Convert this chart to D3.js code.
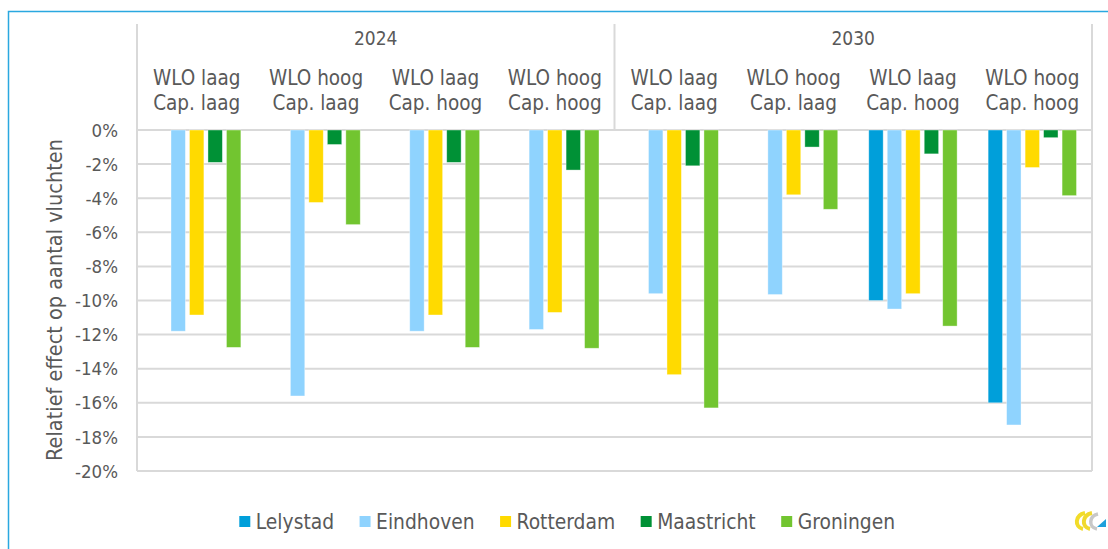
<!DOCTYPE html>
<html>
<head>
<meta charset="utf-8">
<script src="https://cdn.jsdelivr.net/npm/d3@7"></script>
<style>
  html, body { margin: 0; padding: 0; background: #fff; overflow: hidden; }
  text { font-family: "DejaVu Sans Condensed", "DejaVu Sans", sans-serif; font-stretch: condensed; fill: #595959; }
</style>
</head>
<body>
<div id="chart"></div>
<script>
// chart data
const years = ["2024", "2030"];
const scenarios = [
  ["WLO laag", "Cap. laag"],
  ["WLO hoog", "Cap. laag"],
  ["WLO laag", "Cap. hoog"],
  ["WLO hoog", "Cap. hoog"],
];
const airports = ["Lelystad", "Eindhoven", "Rotterdam", "Maastricht", "Groningen"];
const colors = ["#009fda", "#8fd3fe", "#ffda00", "#009136", "#72c530"];

// values in %, one row per category (2024 x 4, then 2030 x 4), null = no bar
const lelystad   = [null, null, null, null, 0, 0, -10.0, -16.0];
const eindhoven  = [-11.8, -15.6, -11.8, -11.7, -9.6, -9.65, -10.5, -17.3];
const rotterdam  = [-10.85, -4.25, -10.85, -10.7, -14.35, -3.8, -9.6, -2.2];
const maastricht = [-1.9, -0.85, -1.9, -2.35, -2.1, -1.0, -1.4, -0.45];
const groningen  = [-12.75, -5.55, -12.75, -12.8, -16.3, -4.65, -11.5, -3.85];

const yTicks = [0, -2, -4, -6, -8, -10, -12, -14, -16, -18, -20];

const series = [lelystad, eindhoven, rotterdam, maastricht, groningen];
const cats = [];
years.forEach((yr) => scenarios.forEach((s) => cats.push({ year: yr, lines: s })));
cats.forEach((c, i) => {
  c.id = i;
  c.values = airports.map((a, j) => ({ airport: a, color: colors[j], value: series[j][i] }));
});

const width = 1108, height = 549;
const left = 137, right = 1092, headerTop = 24;

const svg = d3.select("#chart").append("svg")
  .attr("width", width)
  .attr("height", height);

// outer frame (blue), runs off the picture at right and bottom
svg.append("rect")
  .attr("x", 8.5).attr("y", 11.5)
  .attr("width", 1200).attr("height", 600)
  .attr("fill", "none")
  .attr("stroke", "#2aa8e0")
  .attr("stroke-width", 1.5);

const x0 = d3.scaleBand().domain(cats.map((d) => d.id)).range([left, right]).padding(0);
const bw = x0.bandwidth();
const x1 = d3.scaleBand().domain(airports).range([15.5, bw - 15.5]).paddingInner(0.22);
const y = d3.scaleLinear().domain([-20, 0]).range([471, 130]);

// gridlines
svg.append("g")
  .selectAll("line")
  .data(yTicks)
  .join("line")
  .attr("x1", left).attr("x2", right)
  .attr("y1", (d) => y(d)).attr("y2", (d) => y(d))
  .attr("stroke", "#d9d9d9")
  .attr("stroke-width", 2);

// vertical frame lines of plot + header divider
const yearScale = d3.scaleBand().domain(years).range([left, right]);
svg.append("g")
  .selectAll("line")
  .data([left, right])
  .join("line")
  .attr("x1", (d) => d).attr("x2", (d) => d)
  .attr("y1", headerTop).attr("y2", y(-20))
  .attr("stroke", "#d9d9d9")
  .attr("stroke-width", 2);
svg.append("line")
  .attr("x1", yearScale("2030")).attr("x2", yearScale("2030"))
  .attr("y1", headerTop).attr("y2", y(0))
  .attr("stroke", "#d9d9d9")
  .attr("stroke-width", 2);

// y tick labels
svg.append("g")
  .selectAll("text")
  .data(yTicks)
  .join("text")
  .attr("x", 118)
  .attr("y", (d) => y(d))
  .attr("dy", "0.36em")
  .attr("text-anchor", "end")
  .attr("font-size", 18.5)
  .text((d) => d + "%");

// y axis title
svg.append("text")
  .attr("transform", "translate(62,300) rotate(-90)")
  .attr("text-anchor", "middle")
  .attr("font-size", 21.5)
  .text("Relatief effect op aantal vluchten");

// header: years
svg.append("g")
  .selectAll("text")
  .data(years)
  .join("text")
  .attr("x", (d) => yearScale(d) + yearScale.bandwidth() / 2)
  .attr("y", 45)
  .attr("text-anchor", "middle")
  .attr("font-size", 19)
  .text((d) => d);

// header: scenario labels
const lab = svg.append("g")
  .selectAll("text")
  .data(cats)
  .join("text")
  .attr("text-anchor", "middle")
  .attr("font-size", 20.5);
lab.append("tspan")
  .attr("x", (d) => x0(d.id) + bw / 2)
  .attr("y", 85)
  .text((d) => d.lines[0]);
lab.append("tspan")
  .attr("x", (d) => x0(d.id) + bw / 2)
  .attr("y", 110)
  .text((d) => d.lines[1]);

// bars
svg.append("g")
  .selectAll("g")
  .data(cats)
  .join("g")
  .attr("transform", (d) => `translate(${x0(d.id)},0)`)
  .selectAll("rect")
  .data((d) => d.values.filter((v) => v.value !== null && v.value !== 0))
  .join("rect")
  .attr("x", (d) => x1(d.airport))
  .attr("width", x1.bandwidth())
  .attr("y", y(0))
  .attr("height", (d) => y(d.value) - y(0))
  .attr("fill", (d) => d.color)
  .attr("stroke", "#fff")
  .attr("stroke-opacity", 0.5)
  .attr("stroke-width", 0.75);

// legend
const legend = svg.append("g").attr("font-size", 20.8);
let lx = 239.3;
airports.forEach((a, i) => {
  const g = legend.append("g");
  g.append("rect")
    .attr("x", lx).attr("y", 516)
    .attr("width", 11).attr("height", 11)
    .attr("fill", colors[i]);
  const t = g.append("text")
    .attr("x", lx + 16.5)
    .attr("y", 528.5)
    .text(a);
  lx += 16.5 + t.node().getComputedTextLength() + 25.5;
});

// logo (bottom right)
const logo = svg.append("g").attr("fill", "none").attr("stroke-linecap", "butt");
logo.append("path").attr("d", "M1085,513 C1075,515 1074,527 1083,529").attr("stroke", "#f2dc2a").attr("stroke-width", 4);
logo.append("path").attr("d", "M1092,513 C1082,515 1081,527 1090,529").attr("stroke", "#f0d92e").attr("stroke-width", 4);
logo.append("path").attr("d", "M1098,514 C1089,516 1088,527 1097,529").attr("stroke", "#c8c8c8").attr("stroke-width", 3.5);
logo.append("path").attr("d", "M1097,527 L1106,519 L1106,527 Z").attr("fill", "#1ea0dc").attr("stroke", "none");
</script>
</body>
</html>
